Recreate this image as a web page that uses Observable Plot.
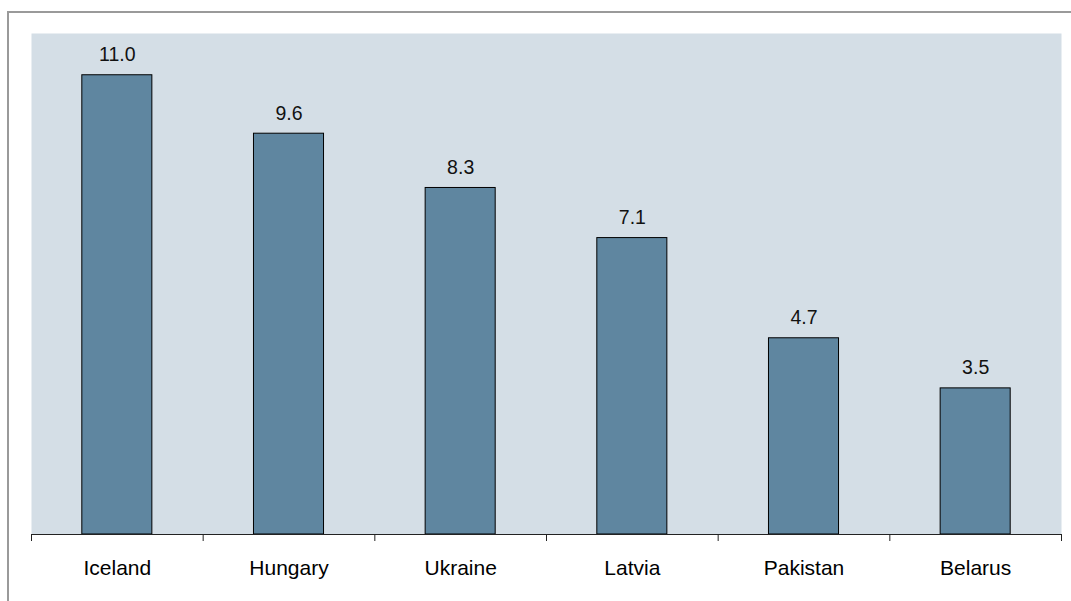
<!DOCTYPE html>
<html>
<head>
<meta charset="utf-8">
<script src="https://cdn.jsdelivr.net/npm/d3@7"></script>
<script src="https://cdn.jsdelivr.net/npm/@observablehq/plot@0.6"></script>
<style>
  html, body { margin: 0; padding: 0; background: #fff; overflow: hidden; }
  #wrap { position: relative; width: 1071px; height: 601px; }
  #border { position: absolute; left: 7px; top: 11px; width: 2000px; height: 2000px;
            border-left: 2px solid #9a9a9a; border-top: 2px solid #9a9a9a; pointer-events: none; }
  #chart { position: absolute; left: 0; top: 0; }
</style>
</head>
<body>
<div id="wrap"><div id="border"></div><div id="chart"></div></div>
<script>
const categories = ["Iceland", "Hungary", "Ukraine", "Latvia", "Pakistan", "Belarus"];
const values = [11.0, 9.6, 8.3, 7.1, 4.7, 3.5];
const yDomain = [0, 12];

const data = categories.map((c, i) => ({category: c, value: values[i], idx: i}));
const boundaries = d3.range(0, categories.length + 1);
const centers = categories.map((c, i) => i + 0.5);
const half = 0.204; // half bar width in band units

const chart = Plot.plot({
  width: 1071,
  height: 601,
  marginLeft: 31,
  marginRight: 10,
  marginTop: 33,
  marginBottom: 67,
  style: {fontFamily: "'Liberation Sans', Arial, sans-serif", background: "transparent", color: "#000"},
  x: {domain: [0, categories.length], axis: null},
  y: {domain: yDomain, axis: null},
  marks: [
    Plot.frame({fill: "#d4dee6", stroke: null}),
    Plot.rectY(data, {x1: d => d.idx + 0.5 - half, x2: d => d.idx + 0.5 + half, y1: 0, y2: "value",
      fill: "#5f86a0", stroke: "#000", strokeWidth: 1}),
    Plot.text(data, {x: d => d.idx + 0.5, y: "value", text: d => d.value.toFixed(1),
      lineAnchor: "bottom", dy: -14, fontSize: 19.5, fill: "#111"}),
    Plot.ruleY([0], {stroke: "#222", strokeWidth: 1}),
    Plot.axisX({ticks: boundaries, tickSize: 7, tickFormat: () => "", stroke: "#222"}),
    Plot.axisX({ticks: centers, tickSize: 0, tickPadding: 26, fontSize: 21,
      tickFormat: v => categories[Math.round(v - 0.5)], fill: "#000"})
  ]
});
document.getElementById("chart").appendChild(chart);
</script>
</body>
</html>
